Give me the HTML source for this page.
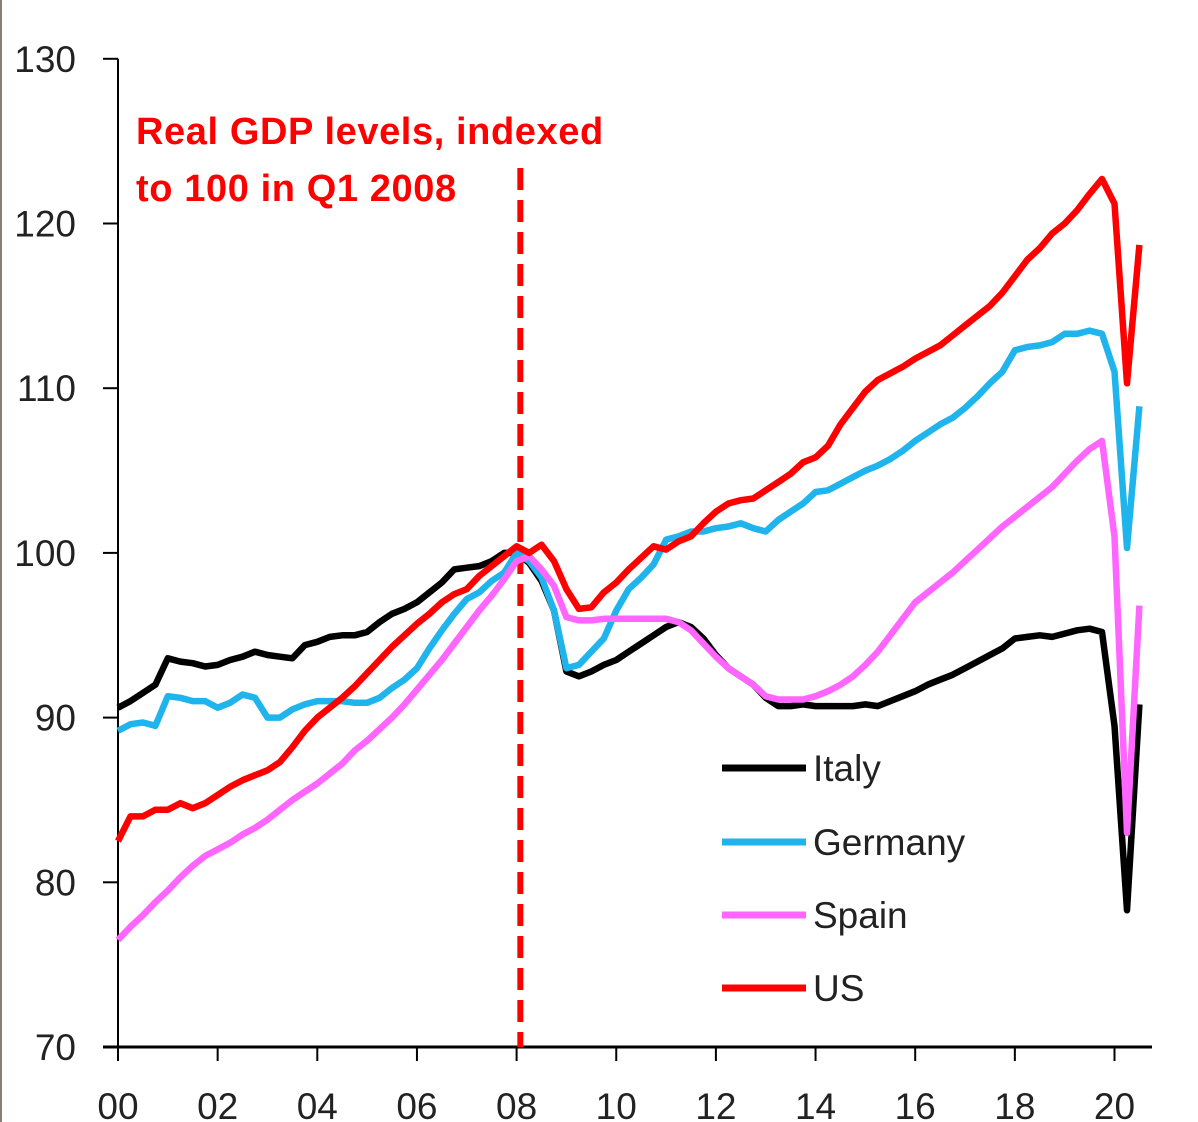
<!DOCTYPE html>
<html><head><meta charset="utf-8"><style>
html,body{margin:0;padding:0;background:#fff;}
svg{display:block;font-family:"Liberation Sans","DejaVu Sans",sans-serif;}
</style></head><body>
<svg id="chart" width="1198" height="1122">
<line x1="1" y1="0" x2="1" y2="1122" stroke="#8a7b7b" stroke-width="2"/>
<g id="axes"></g>
<g id="series"></g>
<text x="136" y="144" fill="#ff0000" font-size="38" font-weight="bold" letter-spacing="0.6">Real GDP levels, indexed</text>
<text x="136" y="201" fill="#ff0000" font-size="38" font-weight="bold" letter-spacing="0.6">to 100  in Q1 2008</text>
<g id="legend"></g>
</svg>
<script>
const yTicks=[70,80,90,100,110,120,130];
const xTickLabels=["00","02","04","06","08","10","12","14","16","18","20"];
const seriesNames=["Italy","Germany","Spain","US"];
const seriesColors=["#000000","#1fb4ec","#ff66ff","#ff0000"];
const italy=[90.6,91.0,91.5,92.0,93.6,93.4,93.3,93.1,93.2,93.5,93.7,94.0,93.8,93.7,93.6,94.4,94.6,94.9,95.0,95.0,95.2,95.8,96.3,96.6,97.0,97.6,98.2,99.0,99.1,99.2,99.5,100.0,100.0,99.4,98.3,96.5,92.8,92.5,92.8,93.2,93.5,94.0,94.5,95.0,95.5,95.8,95.5,94.8,93.8,93.0,92.5,92.0,91.2,90.7,90.7,90.8,90.7,90.7,90.7,90.7,90.8,90.7,91.0,91.3,91.6,92.0,92.3,92.6,93.0,93.4,93.8,94.2,94.8,94.9,95.0,94.9,95.1,95.3,95.4,95.2,89.5,78.3,90.8];
const germany=[89.2,89.6,89.7,89.5,91.3,91.2,91.0,91.0,90.6,90.9,91.4,91.2,90.0,90.0,90.5,90.8,91.0,91.0,91.0,90.9,90.9,91.2,91.8,92.3,93.0,94.2,95.3,96.3,97.2,97.6,98.3,98.8,100.0,99.5,98.5,96.5,93.0,93.2,94.0,94.8,96.5,97.8,98.5,99.3,100.8,101.0,101.3,101.3,101.5,101.6,101.8,101.5,101.3,102.0,102.5,103.0,103.7,103.8,104.2,104.6,105.0,105.3,105.7,106.2,106.8,107.3,107.8,108.2,108.8,109.5,110.3,111.0,112.3,112.5,112.6,112.8,113.3,113.3,113.5,113.3,111.0,100.3,108.9];
const spain=[76.5,77.3,78.0,78.8,79.5,80.3,81.0,81.6,82.0,82.4,82.9,83.3,83.8,84.4,85.0,85.5,86.0,86.6,87.2,88.0,88.6,89.3,90.0,90.8,91.7,92.6,93.5,94.5,95.5,96.5,97.4,98.4,99.5,99.8,99.0,98.0,96.1,95.9,95.9,96.0,96.0,96.0,96.0,96.0,96.0,95.8,95.3,94.5,93.7,93.0,92.5,92.0,91.3,91.1,91.1,91.1,91.3,91.6,92.0,92.5,93.2,94.0,95.0,96.0,97.0,97.6,98.2,98.8,99.5,100.2,100.9,101.6,102.2,102.8,103.4,104.0,104.8,105.6,106.3,106.8,101.0,83.0,96.8];
const us=[82.5,84.0,84.0,84.4,84.4,84.8,84.5,84.8,85.3,85.8,86.2,86.5,86.8,87.3,88.2,89.2,90.0,90.6,91.2,91.9,92.7,93.5,94.3,95.0,95.7,96.3,97.0,97.5,97.8,98.6,99.2,99.8,100.4,100.0,100.5,99.5,97.8,96.6,96.7,97.6,98.2,99.0,99.7,100.4,100.2,100.7,101.0,101.8,102.5,103.0,103.2,103.3,103.8,104.3,104.8,105.5,105.8,106.5,107.8,108.8,109.8,110.5,110.9,111.3,111.8,112.2,112.6,113.2,113.8,114.4,115.0,115.8,116.8,117.8,118.5,119.4,120.0,120.8,121.8,122.7,121.2,110.3,118.7];
const markerQuarter=0.3;

const NS="http://www.w3.org/2000/svg";
const X0=118,PXQ=99.65/8,Y70=1047,PXU=16.47;
function xq(i){return X0+i*PXQ;}
function yv(v){return Y70-(v-70)*PXU;}
function mk(tag,attrs,parent){const e=document.createElementNS(NS,tag);for(const k in attrs)e.setAttribute(k,attrs[k]);parent.appendChild(e);return e;}
const axes=document.getElementById('axes');
let e=mk('line',{x1:X0,y1:yv(130),x2:X0,y2:Y70,stroke:'#000','stroke-width':2},axes);


e=mk('line',{x1:103,y1:Y70,x2:1152,y2:Y70,stroke:'#000','stroke-width':3},axes);


yTicks.forEach(v=>{
 const t=mk('line',{x1:103,y1:yv(v),x2:X0,y2:yv(v),stroke:'#000','stroke-width':2},axes);
 
 
 const l=mk('text',{x:76,y:yv(v)+13,'text-anchor':'end','font-size':37,fill:'#222'},axes);
 l.textContent=v;
 
 
});
xTickLabels.forEach((s,k)=>{
 const x=xq(k*8);
 const t=mk('line',{x1:x,y1:Y70,x2:x,y2:Y70+14,stroke:'#000','stroke-width':2},axes);
 
 
 const l=mk('text',{x:x,y:1119,'text-anchor':'middle','font-size':37,fill:'#222'},axes);
 l.textContent=s;
 
 
});
const ser=document.getElementById('series');
const mx=xq(32+markerQuarter);
e=mk('line',{x1:mx,y1:168,x2:mx,y2:Y70,stroke:'#ff0000','stroke-width':6,'stroke-dasharray':'22 10'},ser);


const data=[italy,germany,spain,us];
data.forEach((arr,s)=>{
 const d=arr.map((v,i)=>(i?'L':'M')+xq(i).toFixed(1)+','+yv(v).toFixed(1)).join('');
 const p=mk('path',{d:d,fill:'none',stroke:seriesColors[s],'stroke-width':6.5,'stroke-linejoin':'round'},ser);
 
 
});
const leg=document.getElementById('legend');
const legY=[768,842,915,988];
seriesNames.forEach((n,s)=>{
 const g=mk('g',{},leg);
 
 
 mk('line',{x1:722,y1:legY[s],x2:806,y2:legY[s],stroke:seriesColors[s],'stroke-width':7},g);
 const t=mk('text',{x:813,y:legY[s]+13,'font-size':37,fill:'#222'},g);
 t.textContent=n;
});
</script>
</body></html>
